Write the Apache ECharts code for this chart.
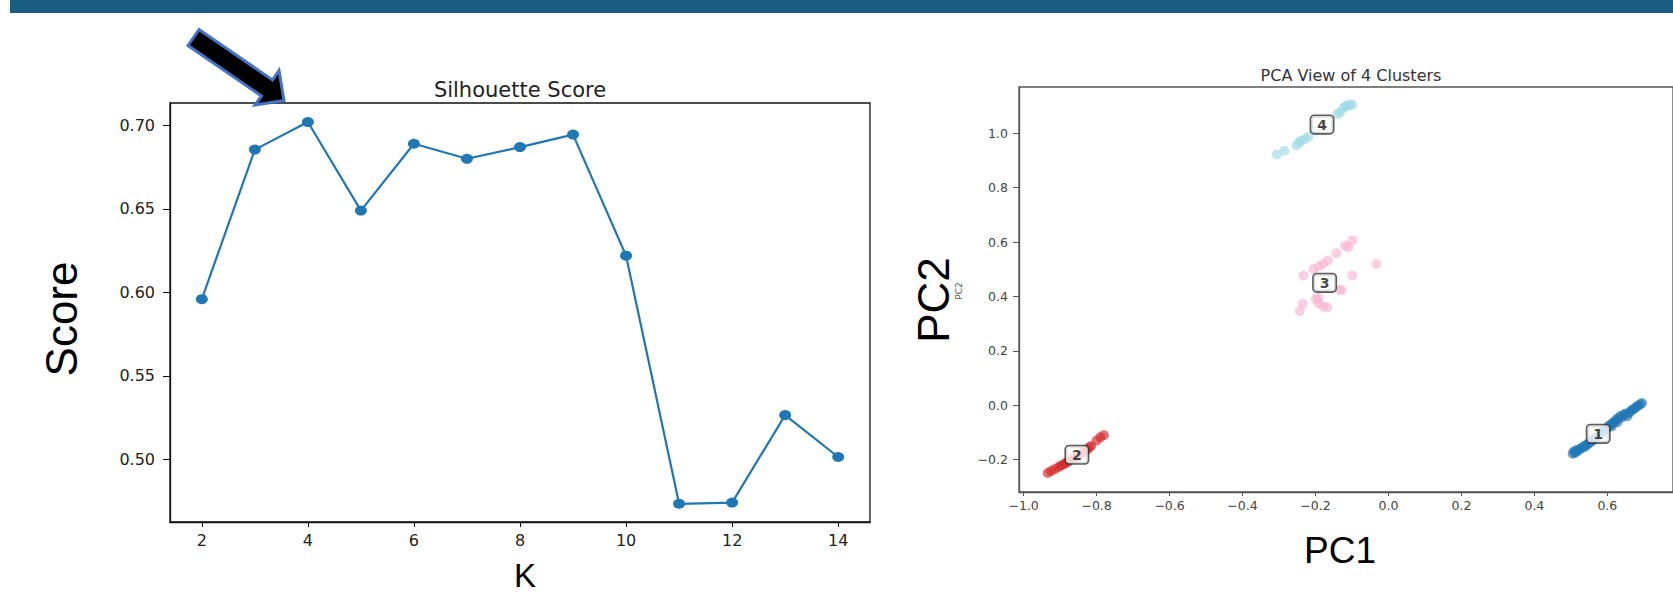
<!DOCTYPE html>
<html>
<head>
<meta charset="utf-8">
<script src="https://cdn.jsdelivr.net/npm/echarts@6/dist/echarts.min.js"></script>
<style>
html,body{margin:0;padding:0;background:#fff;}
#chart{width:1673px;height:594px;}
</style>
</head>
<body>
<div id="chart"></div>
<script>
// ---------- data ----------
const kValues = [2, 3, 4, 5, 6, 7, 8, 9, 10, 11, 12, 13, 14];
const silhouetteScores = [0.596, 0.6855, 0.702, 0.649, 0.689, 0.680, 0.687, 0.6945, 0.622, 0.4735, 0.4742, 0.5266, 0.5015];
const kTicks = [2, 4, 6, 8, 10, 12, 14];
const scoreTicks = [0.50, 0.55, 0.60, 0.65, 0.70];

const pc1Ticks = [-1.0, -0.8, -0.6, -0.4, -0.2, 0.0, 0.2, 0.4, 0.6];
const pc2Ticks = [-0.2, 0.0, 0.2, 0.4, 0.6, 0.8, 1.0];

const cluster1 = [
  [0.505,-0.178],[0.508,-0.170],[0.512,-0.175],[0.515,-0.165],[0.520,-0.168],[0.525,-0.160],
  [0.530,-0.158],[0.535,-0.150],[0.540,-0.152],[0.545,-0.143],[0.550,-0.140],[0.555,-0.133],
  [0.560,-0.130],[0.565,-0.122],[0.570,-0.118],[0.580,-0.108],[0.585,-0.100],[0.590,-0.095],
  [0.595,-0.090],[0.600,-0.082],[0.605,-0.075],[0.610,-0.070],[0.612,-0.078],[0.615,-0.065],
  [0.620,-0.060],[0.625,-0.052],[0.628,-0.062],[0.630,-0.048],[0.635,-0.040],[0.640,-0.045],
  [0.645,-0.035],[0.650,-0.030],[0.655,-0.040],[0.660,-0.028],[0.665,-0.020],[0.670,-0.015],
  [0.675,-0.012],[0.680,-0.005],[0.685,-0.002],[0.690,0.004],[0.695,0.008]
];
const cluster2 = [
  [-0.934,-0.249],[-0.925,-0.242],[-0.915,-0.235],[-0.905,-0.228],[-0.898,-0.222],[-0.890,-0.218],
  [-0.885,-0.212],[-0.878,-0.208],[-0.870,-0.200],[-0.862,-0.195],[-0.855,-0.190],[-0.848,-0.185],
  [-0.840,-0.178],[-0.833,-0.170],[-0.826,-0.163],[-0.820,-0.155],[-0.815,-0.150],[-0.800,-0.130],
  [-0.790,-0.118],[-0.780,-0.110]
];
const cluster3 = [
  [-0.099,0.606],[-0.119,0.587],[-0.110,0.581],[-0.143,0.559],[-0.166,0.532],[-0.179,0.520],
  [-0.190,0.510],[-0.206,0.501],[-0.233,0.477],[-0.033,0.520],[-0.099,0.477],[-0.133,0.424],
  [-0.192,0.395],[-0.235,0.373],[-0.243,0.346],[-0.199,0.391],[-0.192,0.375],[-0.179,0.363],
  [-0.168,0.360],[-0.129,0.424]
];
const cluster4 = [
  [-0.306,0.922],[-0.285,0.936],[-0.252,0.955],[-0.245,0.967],[-0.229,0.979],[-0.219,0.988],
  [-0.240,0.972],[-0.200,1.010],[-0.133,1.077],[-0.123,1.093],[-0.113,1.102],[-0.099,1.105],
  [-0.140,1.070],[-0.118,1.098],[-0.106,1.104]
];
const clusterNames = ['1', '2', '3', '4'];
const clusterCenters = [[0.575,-0.105],[-0.854,-0.182],[-0.175,0.450],[-0.182,1.032]];

// ---------- chart ----------
const chart = echarts.init(document.getElementById('chart'), null, {renderer: 'svg'});
const tickFont = 'DejaVu Sans';
const pcaFmt = v => (v < -1e-9 ? '\u2212' : '') + Math.abs(v).toFixed(1);

function clusterSeries(data, color) {
  return {
    type: 'scatter', xAxisIndex: 1, yAxisIndex: 1, data: data,
    symbol: 'circle', symbolSize: 10, silent: true,
    itemStyle: {color: color, opacity: 0.65}
  };
}

const option = {
  animation: false,
  backgroundColor: '#ffffff',
  title: [
    {text: 'Silhouette Score', left: 520, top: 79, textAlign: 'center', padding: 0,
     textStyle: {fontFamily: tickFont, fontSize: 21, fontWeight: 'normal', color: '#222'}},
    {text: 'PCA View of 4 Clusters', left: 1351, top: 67, textAlign: 'center', padding: 0,
     textStyle: {fontFamily: tickFont, fontSize: 16, fontWeight: 'normal', color: '#333'}}
  ],
  grid: [
    {left: 170, top: 103, right: 803, bottom: 72, show: true, borderColor: '#111', borderWidth: 1.3, backgroundColor: 'transparent'},
    {left: 1019, top: 87, right: -11, bottom: 102, show: true, borderColor: '#555', borderWidth: 1.3, backgroundColor: 'transparent'}
  ],
  xAxis: [
    {gridIndex: 0, type: 'value', min: 1.4, max: 14.6,
     axisLine: {show: true, onZero: false, lineStyle: {color: '#111', width: 1.3}},
     axisTick: {show: true, customValues: kTicks, length: 5, lineStyle: {color: '#111'}},
     axisLabel: {customValues: kTicks, margin: 10, fontFamily: tickFont, fontSize: 16, color: '#222'},
     splitLine: {show: false}},
    {gridIndex: 1, type: 'value', min: -1.0127, max: 0.78,
     axisLine: {show: true, onZero: false, lineStyle: {color: '#555', width: 1.3}},
     axisTick: {show: true, customValues: pc1Ticks, length: 4, lineStyle: {color: '#555'}},
     axisLabel: {customValues: pc1Ticks, margin: 7, fontFamily: tickFont, fontSize: 12.5, color: '#444', formatter: pcaFmt},
     splitLine: {show: false}}
  ],
  yAxis: [
    {gridIndex: 0, type: 'value', min: 0.4626, max: 0.7134,
     axisLine: {show: true, onZero: false, lineStyle: {color: '#111', width: 1.3}},
     axisTick: {show: true, customValues: scoreTicks, length: 7, lineStyle: {color: '#111'}},
     axisLabel: {customValues: scoreTicks, margin: 15, fontFamily: tickFont, fontSize: 16, color: '#222', formatter: v => v.toFixed(2)},
     splitLine: {show: false}},
    {gridIndex: 1, type: 'value', min: -0.319, max: 1.170,
     axisLine: {show: true, onZero: false, lineStyle: {color: '#555', width: 1.3}},
     axisTick: {show: true, customValues: pc2Ticks, length: 6, lineStyle: {color: '#555'}},
     axisLabel: {customValues: pc2Ticks, margin: 11, fontFamily: tickFont, fontSize: 12.5, color: '#444', formatter: pcaFmt},
     splitLine: {show: false}}
  ],
  series: [
    {type: 'line', xAxisIndex: 0, yAxisIndex: 0,
     data: kValues.map((k, i) => [k, silhouetteScores[i]]),
     symbol: 'circle', symbolSize: [12, 10], showSymbol: true,
     lineStyle: {color: '#1f77b4', width: 2.2},
     itemStyle: {color: '#1f77b4', borderWidth: 0}},
    clusterSeries(cluster1, '#1f77b4'),
    clusterSeries(cluster2, '#d62728'),
    clusterSeries(cluster3, '#f7b6d2'),
    clusterSeries(cluster4, '#9edae5'),
    {type: 'scatter', xAxisIndex: 1, yAxisIndex: 1, symbolSize: 0, silent: true,
     data: clusterCenters.map((c, i) => ({value: c, name: clusterNames[i]})),
     label: {show: true, position: 'inside', formatter: p => p.name,
       fontFamily: tickFont, fontWeight: 'bold', fontSize: 14, color: '#111',
       backgroundColor: '#ffffff', borderColor: '#333', borderWidth: 1.6, borderRadius: 3,
       padding: [2, 6, 1, 6]}}
  ],
  graphic: [
    {type: 'rect', shape: {x: 10, y: 0, width: 1663, height: 13}, style: {fill: '#1a5f83'}, silent: true},
    {type: 'polygon', silent: true,
     shape: {points: [[188,45.5],[199,29.5],[272.5,80],[279,70.5],[284,100.5],[255,105],[261.5,96]]},
     style: {fill: '#000', stroke: '#4472c4', lineWidth: 3, lineJoin: 'miter'}},
    {type: 'text', x: 61, y: 319, rotation: Math.PI / 2, silent: true,
     style: {text: 'Score', fontFamily: 'Liberation Sans', fontSize: 44, fill: '#000', align: 'center', verticalAlign: 'middle'}},
    {type: 'text', x: 525, y: 559, silent: true,
     style: {text: 'K', fontFamily: 'Liberation Sans', fontSize: 33, fill: '#000', align: 'center', verticalAlign: 'top'}},
    {type: 'text', x: 933, y: 300, rotation: Math.PI / 2, silent: true,
     style: {text: 'PC2', fontFamily: 'Liberation Sans', fontSize: 44, fill: '#000', align: 'center', verticalAlign: 'middle'}},
    {type: 'text', x: 959, y: 291, rotation: Math.PI / 2, silent: true,
     style: {text: 'PC2', fontFamily: tickFont, fontSize: 9, fill: '#555', align: 'center', verticalAlign: 'middle'}},
    {type: 'text', x: 1340, y: 550, silent: true,
     style: {text: 'PC1', fontFamily: 'Liberation Sans', fontSize: 37, fill: '#000', align: 'center', verticalAlign: 'middle'}}
  ]
};
chart.setOption(option);
</script>
</body>
</html>
